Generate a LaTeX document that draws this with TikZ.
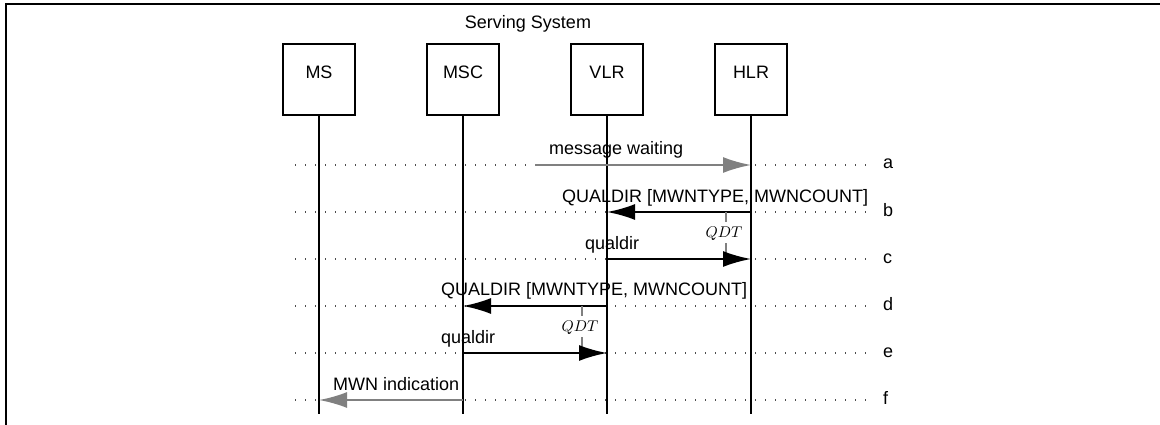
\documentclass[tikz,border=0pt]{standalone}
\usepackage{fontspec}
\setmainfont{Liberation Sans}
\usetikzlibrary{arrows.meta}
\definecolor{mgray}{RGB}{128,128,128}
\newcommand{\qdttext}{\scalebox{1.55}{$QDT$}}
\begin{document}
\begin{tikzpicture}[x=1pt,y=-1pt,
  font=\fontsize{18}{21}\selectfont,
  box/.style={draw,line width=1.5pt,minimum width=72pt,minimum height=71pt,inner sep=0pt},
  boxtext/.style={inner sep=0pt},
  life/.style={line width=2pt},
  msg/.style={line width=2pt,-{Latex[length=28pt,width=16pt]}},
  gmsg/.style={msg,draw=mgray,color=mgray},
  dotline/.style={line width=1.3pt,dash pattern=on 1.3pt off 8.7pt,black!70},
  lbl/.style={anchor=base west,inner sep=0pt},
  clbl/.style={anchor=base,inner sep=0pt},
  qdt/.style={inner sep=0pt,font=\normalsize},
  tick/.style={line width=1.3pt,mgray},
  rowl/.style={anchor=base west,inner sep=0pt}]
\useasboundingbox (0,0) rectangle (1160,425);
% frame
\draw[line width=2pt] (6,425) -- (6,4.3) -- (1160,4.3);
% title
\node[clbl] (ss) at (528,29) {Serving System};
% rows
\coordinate (ya) at (0,165);
\coordinate (yb) at (0,212);
\coordinate (yc) at (0,259);
\coordinate (yd) at (0,306);
\coordinate (ye) at (0,353);
\coordinate (yf) at (0,400);
\coordinate (bot) at (0,414);
\coordinate (dl) at (295,0);
\coordinate (dr) at (866,0);
\foreach \r/\t in {ya/a,yb/b,yc/c,yd/d,ye/e,yf/f}{
  \draw[dotline] (dl |- \r) -- (dr |- \r);
  \node[rowl] (row-\t) at ([yshift=-4pt]883,0 |- \r) {\t};
}
% entities
\node[box] (ms) at (319,79.5) {};
\node[boxtext] (ms-t) at ([yshift=7.5pt]ms.center) {MS};
\node[box] (msc) at (463,79.5) {};
\node[boxtext] (msc-t) at ([yshift=7.5pt]msc.center) {MSC};
\node[box] (vlr) at (607,79.5) {};
\node[boxtext] (vlr-t) at ([yshift=7.5pt]vlr.center) {VLR};
\node[box] (hlr) at (751,79.5) {};
\node[boxtext] (hlr-t) at ([yshift=7.5pt]hlr.center) {HLR};
% lifelines
\foreach \n in {ms,msc,vlr,hlr}{
  \draw[life] (\n.south) -- (\n.south |- bot);
}
% a
\coordinate (a-start) at (535,165);
\draw[gmsg] (a-start) -- (hlr |- ya);
\node[lbl] (la) at (549,155) {message waiting};
% b
\draw[msg] (hlr |- yb) -- (vlr |- yb);
\node[lbl] (lb) at (562,202) {QUALDIR [MWNTYPE, MWNCOUNT]};
\node[qdt] (qdt1) at (724,234) {\qdttext};
\draw[tick] (726,212) -- (726,222);
\draw[tick] (726,243) -- (726,259);
% c
\draw[msg] (vlr |- yc) -- (hlr |- yc);
\node[lbl] (lc) at (585,249) {qualdir};
% d
\draw[msg] (vlr |- yd) -- (msc |- yd);
\node[lbl] (ld) at (441,295) {QUALDIR [MWNTYPE, MWNCOUNT]};
\node[qdt] (qdt2) at (580,328) {\qdttext};
\draw[tick] (582,306) -- (582,316);
\draw[tick] (582,337) -- (582,353);
% e
\draw[msg] (msc |- ye) -- (vlr |- ye);
\node[lbl] (le) at (441,343) {qualdir};
% f
\draw[gmsg] (msc |- yf) -- (ms |- yf);
\node[lbl] (lf) at (333,390) {MWN indication};
\end{tikzpicture}
\end{document}
